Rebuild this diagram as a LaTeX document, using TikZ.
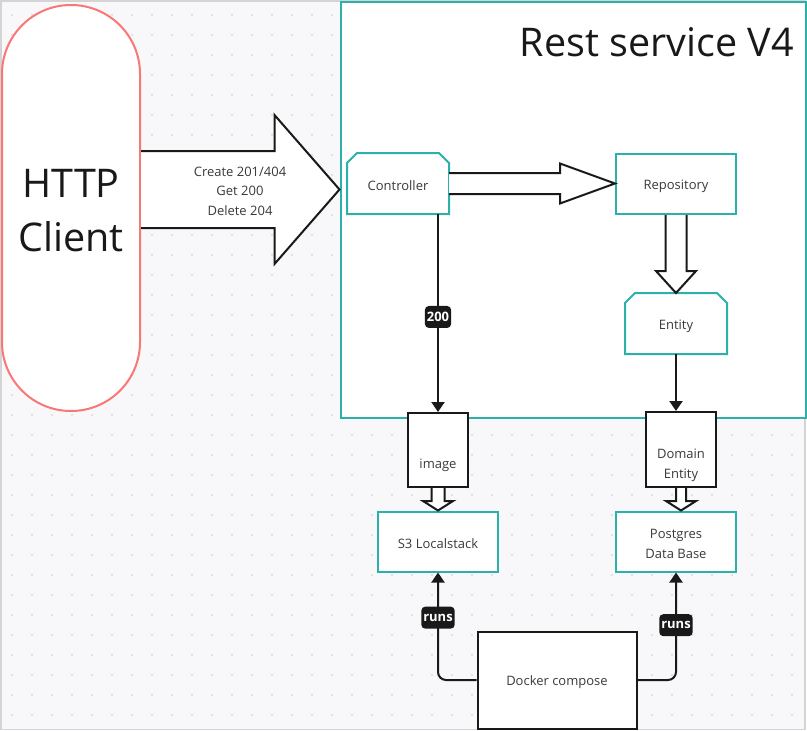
\documentclass[tikz,border=0pt]{standalone}
\usepackage{fontspec}
\setmainfont{Open Sans}
\usetikzlibrary{calc,arrows.meta}
\definecolor{bgc}{HTML}{F8F8FA}
\definecolor{dotc}{HTML}{DCDCE0}
\definecolor{framec}{HTML}{D4D4D4}
\definecolor{tealc}{HTML}{2BB0AA}
\definecolor{clientc}{HTML}{F87777}
\definecolor{txtc}{HTML}{3A3A3A}
\def\chamferbox(#1){\draw[draw=tealc, line width=2pt] (#1.south west) -- ([yshift=-10pt]#1.north west) -- ([xshift=10pt]#1.north west) -- ([xshift=-10pt]#1.north east) -- ([yshift=-10pt]#1.north east) -- (#1.south east) -- cycle;}
\def\downblock(#1)(#2)#3#4#5{\filldraw[hollow] let \p1=(#1.south), \p2=(#2.north) in (\x1-#3,\y1) -- (\x1-#3,\y2+#5) -- (\x1-#4,\y2+#5) -- (\x1,\y2) -- (\x1+#4,\y2+#5) -- (\x1+#3,\y2+#5) -- (\x1+#3,\y1);}

\begin{document}
\begin{tikzpicture}[x=1pt,y=-1pt,
  tealbox/.style={draw=tealc, line width=2pt, fill=white},
  chamfered/.style={fill=white, outer sep=1pt},
  blackbox/.style={draw=black!90, line width=2pt, fill=white},
  txt/.style={font=\fontsize{13}{19.5}\selectfont, text=txtc, align=center, execute at begin node={\rule{0pt}{15pt}}},
  conn/.style={draw=black!90, line width=2pt, -{Triangle[width=13pt,length=10pt]}},
  hollow/.style={draw=black!90, line width=2pt, fill=white, line join=miter},
  tag/.style={fill=black!90, text=white, rounded corners=4pt, inner xsep=2pt, inner ysep=0pt, minimum height=22pt, font=\fontsize{13}{15}\selectfont\bfseries}
]
		%%%%% START %%%%%
		\useasboundingbox (0,0) rectangle (807,731);
		\fill[bgc] (1,1) rectangle (805,729.5);
		\foreach \i in {0,...,39}
			\foreach \j in {0,...,35}
				\fill[dotc] (12+20*\i,15+20*\j) circle (1.1);
		\draw[framec, line width=1.5pt] (1,1) rectangle (805,729.5);
		
		\node[draw=clientc, line width=2pt, fill=white, rounded corners=68.9pt, minimum width=138pt, minimum height=406pt] (client) at (71,208) {};
		\node[font=\fontsize{39.5}{54}\selectfont, align=center, text=black!90] (clientname) at (71,211) {HTTP\\Client};
		
		\node[tealbox, minimum width=465pt, minimum height=416pt, anchor=north west, inner sep=0pt] (svc) at (339.5,1) {};
		\node[font=\fontsize{39.5}{46}\selectfont, text=black!90, anchor=east, inner sep=0pt] (title) at (794,42) {Rest service V4};
		
		\filldraw[hollow] let \p1=(client.east), \p2=(svc.west), \n1={\y1+18.5pt} in (\x1,\n1+38.5pt) -- (\x2-65pt,\n1+38.5pt) -- (\x2-65pt,\n1+74.5pt) -- (\x2,\n1) -- (\x2-65pt,\n1-74.5pt) -- (\x2-65pt,\n1-38.5pt) -- (\x1,\n1-38.5pt);
		\node[txt] (calls) at (240,191) {Create 201/404\\Get 200\\Delete 204};
		
		\node[chamfered, minimum width=100pt, minimum height=59pt, txt] (ctrl) at (398,183.5) {Controller};
		\chamferbox(ctrl)
		\node[tealbox, minimum width=120pt, minimum height=60pt, txt] (repo) at (676,184) {Repository};
		\node[chamfered, minimum width=100pt, minimum height=59pt, txt] (entity) at (676,323.5) {Entity};
		\chamferbox(entity)
		
		\node[blackbox, minimum width=60pt, minimum height=74pt, label={[txt,yshift=-13pt]center:image}] (img) at (438,450) {};
		\node[blackbox, minimum width=70pt, minimum height=75pt, label={[txt,yshift=-16pt]center:{Domain\\Entity}}] (dom) at (681,449.5) {};
		\node[tealbox, minimum width=120pt, minimum height=60pt, txt] (s3) at (438,541.5) {S3 Localstack};
		\node[tealbox, minimum width=120pt, minimum height=60pt, label={[txt,yshift=-2.5pt]center:{Postgres\\Data Base}}] (pg) at (676,541.5) {};
		\node[blackbox, minimum width=159pt, minimum height=97pt, txt] (docker) at (557,680) {Docker compose};
		
		\filldraw[hollow] let \p1=(ctrl.east), \p2=(repo.west) in (\x1,\y1+10.5pt) -- (\x2-55pt,\y1+10.5pt) -- (\x2-55pt,\y1+20pt) -- (\x2,\y1) -- (\x2-55pt,\y1-20pt) -- (\x2-55pt,\y1-10.5pt) -- (\x1,\y1-10.5pt);
		\downblock(repo)(entity){10.5pt}{20pt}{22pt}
		\downblock(img)(s3){6.5pt}{15pt}{9.5pt}
		\downblock(dom)(pg){5pt}{15pt}{9.5pt}
		
		\draw[conn] (img.north |- ctrl.south) -- node[tag, pos=0.52] (code) {200} (img.north);
		\draw[conn] (entity.south) -- (entity.south |- dom.north);
		\draw[conn, rounded corners=8pt] (docker.west) -| node[tag, pos=0.79] (runsa) {runs} (s3.south);
		\draw[conn, rounded corners=8pt] (docker.east) -| node[tag, pos=0.755] (runsb) {runs} (pg.south);
		%%%%% END %%%%%
\end{tikzpicture}
\end{document}
